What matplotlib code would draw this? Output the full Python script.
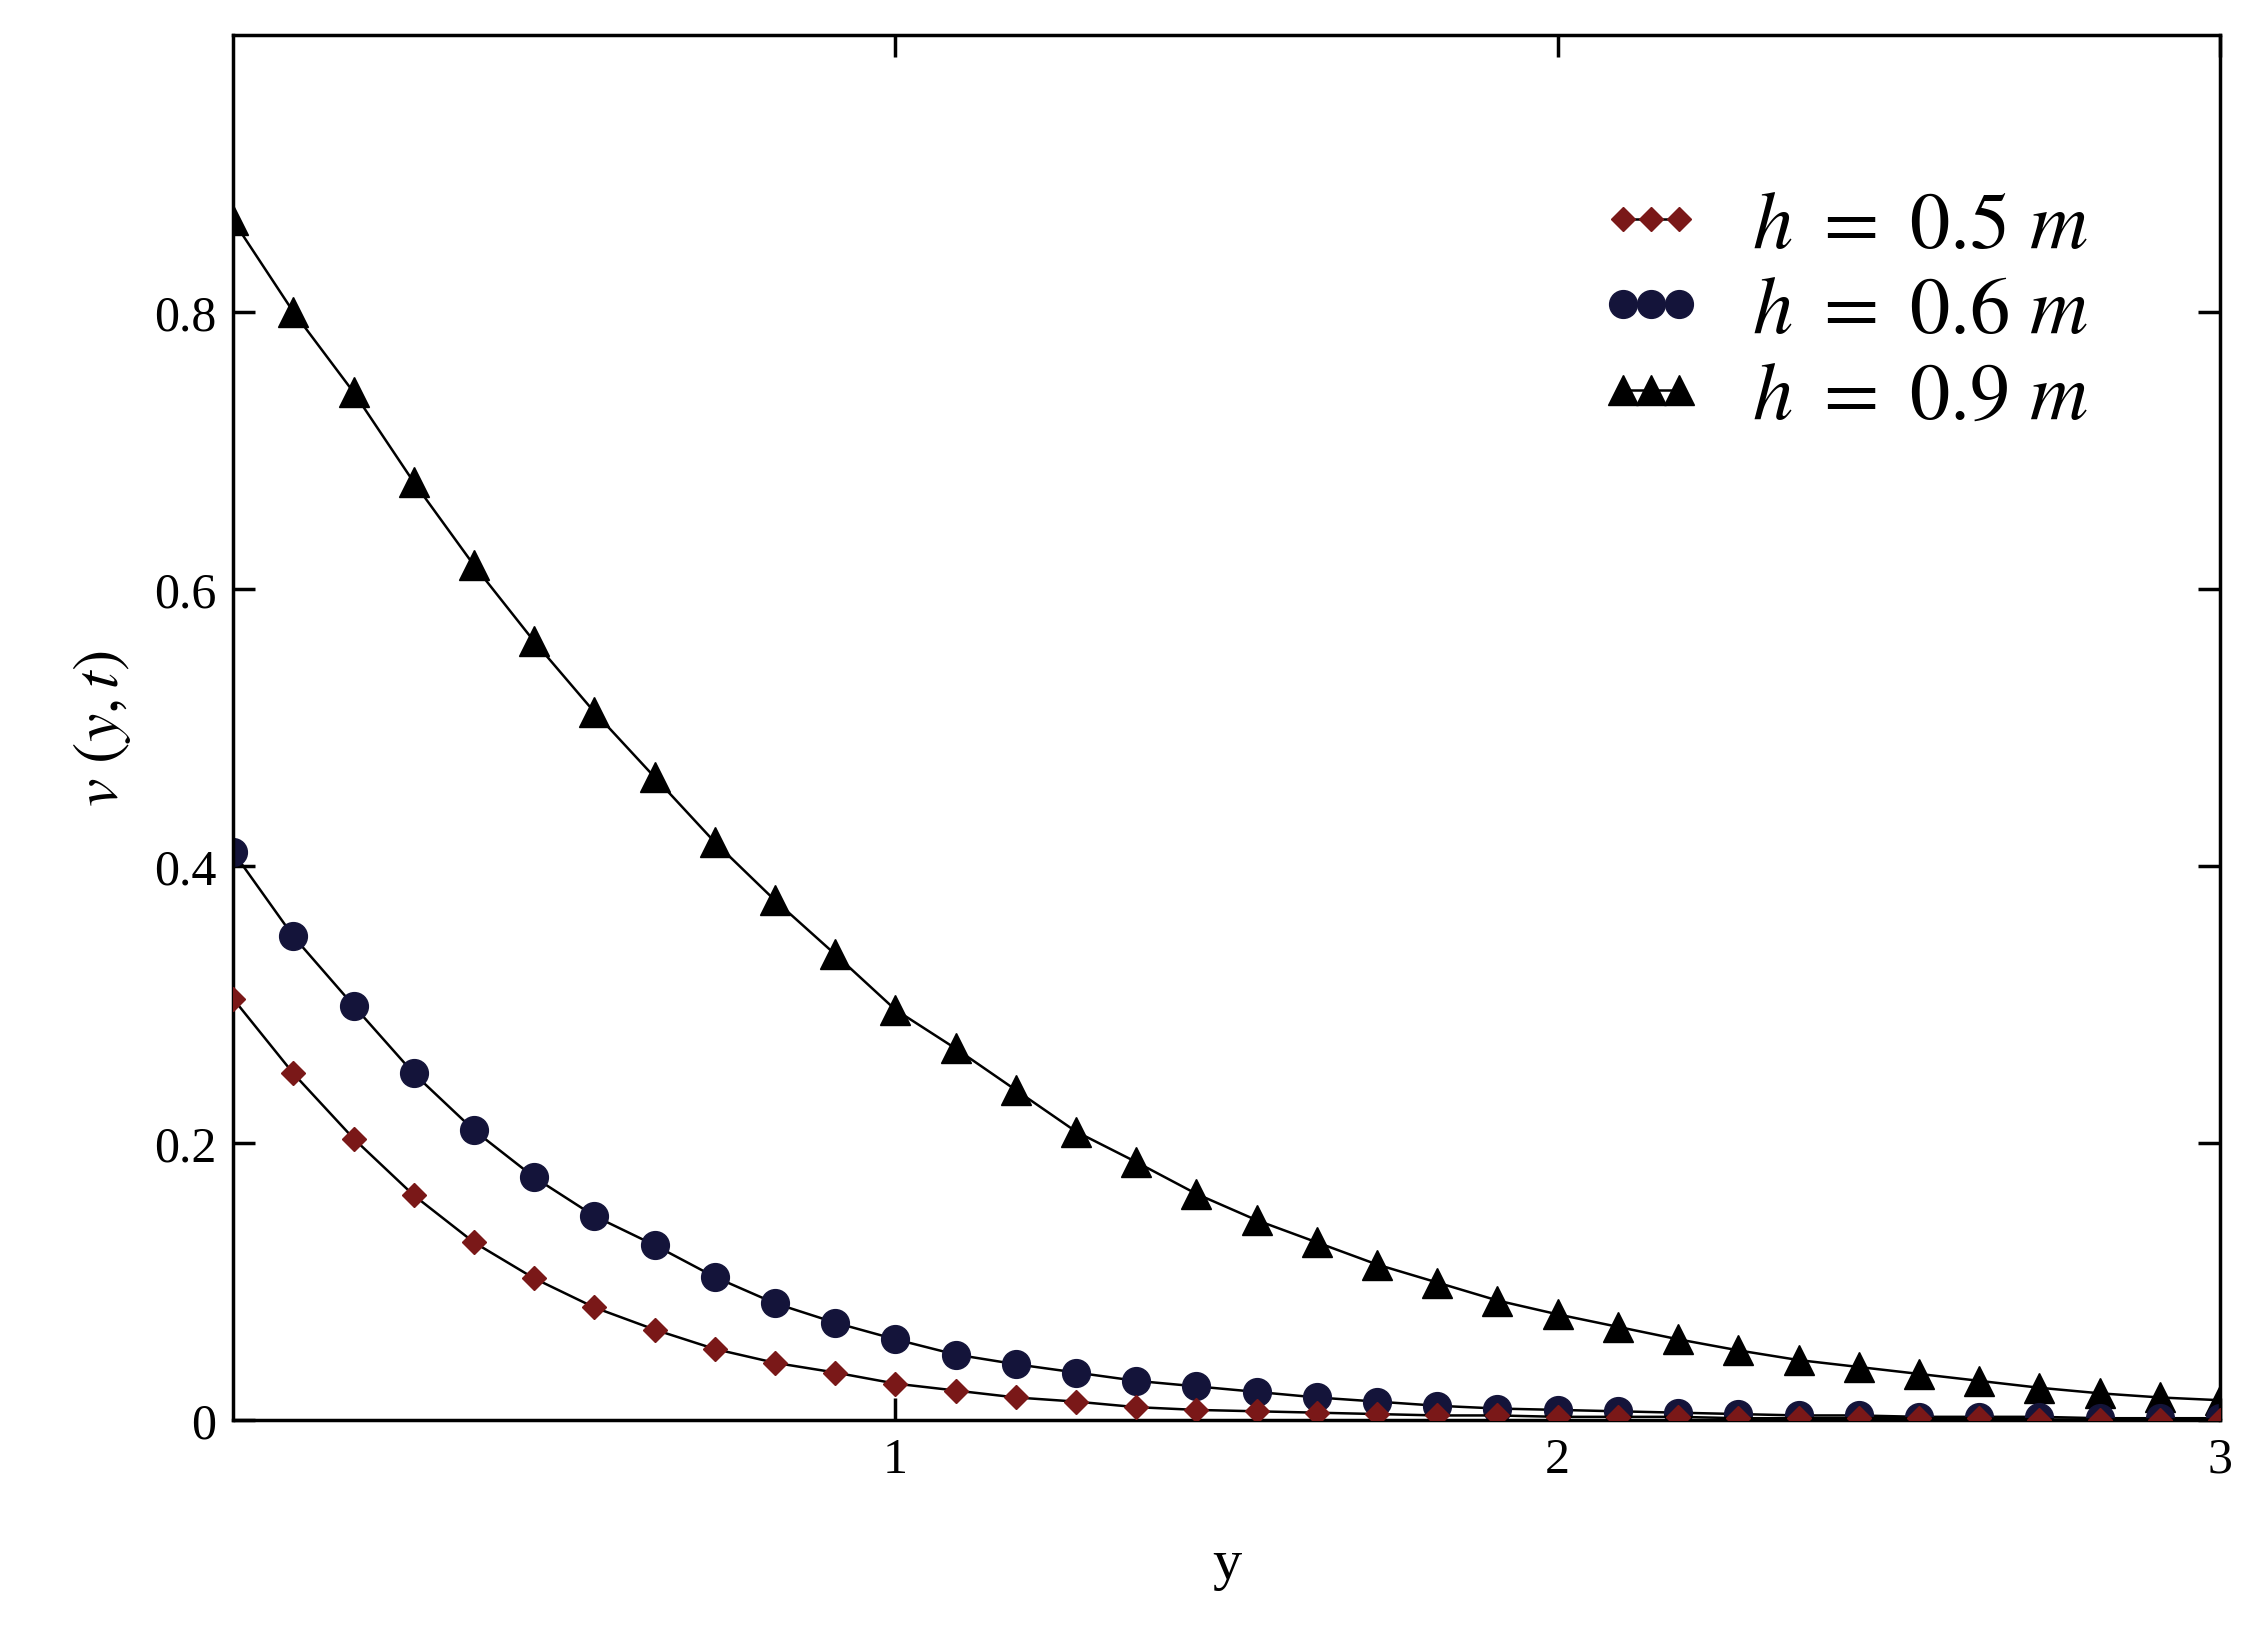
import numpy as np
import matplotlib
matplotlib.use("Agg")
import matplotlib.pyplot as plt

plt.rcParams['font.family'] = ['Liberation Serif', 'DejaVu Serif']
plt.rcParams['mathtext.fontset'] = 'stix'

y = np.linspace(0, 3, 34)
v_05 = [0.304, 0.250, 0.203, 0.162, 0.128, 0.102, 0.081, 0.065, 0.051, 0.041, 0.034, 0.026,
        0.021, 0.016, 0.013, 0.009, 0.007, 0.006, 0.005, 0.004, 0.003, 0.003, 0.002, 0.002,
        0.002, 0.001, 0.001, 0.001, 0.001, 0.001, 0.000, 0.000, 0.000, 0.000]
v_06 = [0.410, 0.349, 0.299, 0.250, 0.209, 0.175, 0.147, 0.126, 0.103, 0.084, 0.070, 0.058,
        0.047, 0.040, 0.034, 0.028, 0.024, 0.020, 0.016, 0.013, 0.010, 0.008, 0.007, 0.006,
        0.005, 0.004, 0.003, 0.003, 0.002, 0.002, 0.002, 0.001, 0.001, 0.001]
v_09 = [0.866, 0.800, 0.742, 0.677, 0.617, 0.562, 0.511, 0.464, 0.417, 0.375, 0.336, 0.296,
        0.268, 0.238, 0.208, 0.186, 0.163, 0.144, 0.128, 0.112, 0.099, 0.086, 0.076, 0.067,
        0.058, 0.050, 0.043, 0.038, 0.033, 0.028, 0.023, 0.019, 0.016, 0.014]
labels = [r'$h\ =\ 0.5\ m$', r'$h\ =\ 0.6\ m$', r'$h\ =\ 0.9\ m$']

fig = plt.figure(figsize=(22.63, 16.31), dpi=100)
ax = fig.add_axes([0.103, 0.129, 0.878, 0.849])
ax.plot(y, v_05, color='black', lw=1.8, marker='D', ms=12, mfc='#7a1818', mec='#7a1818', label=labels[0], zorder=3)
ax.plot(y, v_06, color='black', lw=1.8, marker='o', ms=20, mfc='#14143a', mec='#14143a', label=labels[1], zorder=2)
ax.plot(y, v_09, color='black', lw=1.8, marker='^', ms=21, mfc='black', mec='black', label=labels[2], zorder=1)

ax.set_xlim(0, 3)
ax.set_ylim(0, 1.0)
ax.set_xticks([1, 2, 3])
ax.set_yticks([0, 0.2, 0.4, 0.6, 0.8])
ax.set_yticklabels(['0', '0.2', '0.4', '0.6', '0.8'])
ax.tick_params(direction='in', top=True, right=True, length=16, width=2.5, labelsize=36, pad=12)
for s in ax.spines.values():
    s.set_linewidth(2.5)
ax.set_xlabel('y', fontsize=42, labelpad=40)
ax.set_ylabel(r'$v\ (y,t)$', fontsize=46, labelpad=15)
ax.legend(loc='upper right', frameon=False, fontsize=58, numpoints=3, handlelength=1.3,
          handletextpad=0.6, labelspacing=0.15, bbox_to_anchor=(0.97, 0.94))
fig.savefig('out.png', dpi=100)
